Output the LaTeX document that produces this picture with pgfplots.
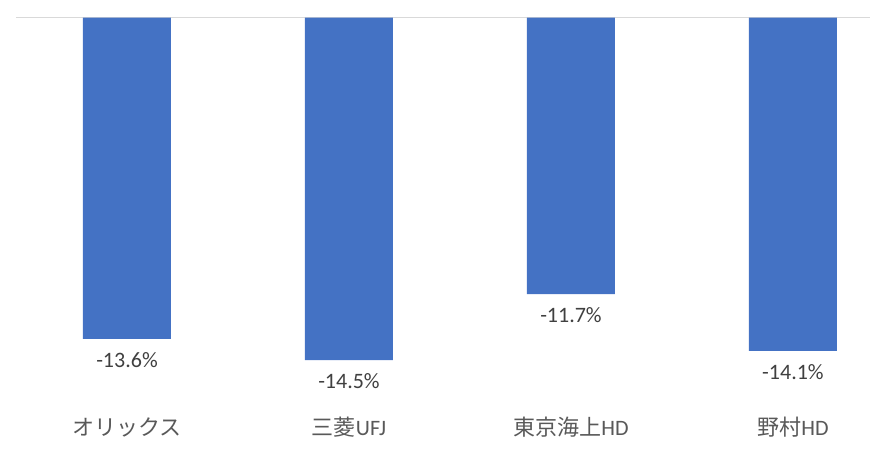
\documentclass[border=0pt]{standalone}
\usepackage{pgfplots}
\pgfplotsset{compat=1.18}
\usepackage{fontspec}
\setmainfont{Carlito}
\newfontfamily\cjk{Noto Sans CJK JP}
\definecolor{barblue}{HTML}{4472C4}
\definecolor{gridgray}{HTML}{D9D9D9}
\definecolor{labeltext}{HTML}{404040}
\definecolor{cattext}{HTML}{595959}

\begin{document}
\begin{tikzpicture}
\begin{axis}[
    name=ax,
    scale only axis,
    width=854pt, height=432.4pt,
    xmin=-0.5, xmax=3.347,
    ymin=-18.3, ymax=0,
    axis line style={draw=none},
    ytick=\empty,
    xtick=data,
    xticklabels={{\cjk オリックス}, {\cjk 三菱}UFJ, {\cjk 東京海上}HD, {\cjk 野村}HD},
    major tick length=0pt,
    xticklabel style={anchor=center, yshift=22.4pt, text=cattext, font=\fontsize{22}{26}\selectfont},
    extra y ticks={0},
    extra y tick labels={},
    extra y tick style={grid=major, major grid style={draw=gridgray, line width=1pt}},
    /pgf/number format/assume math mode=true,
    nodes near coords={\pgfmathprintnumber[fixed,fixed zerofill,precision=1]{\pgfplotspointmeta}\%},
    nodes near coords align=center,
    every node near coord/.append style={yshift=-21pt, text=labeltext, font=\fontsize{22}{26}\selectfont},
    clip=false,
]
\addplot[ybar, bar width=88pt, fill=barblue, draw=none] coordinates {
    (0, -13.6)
    (1, -14.5)
    (2, -11.7)
    (3, -14.1)
};
\end{axis}
\pgfresetboundingbox
\path[use as bounding box] ([xshift=-16pt]ax.south west) rectangle ++(870pt,450pt);
\end{tikzpicture}
\end{document}
